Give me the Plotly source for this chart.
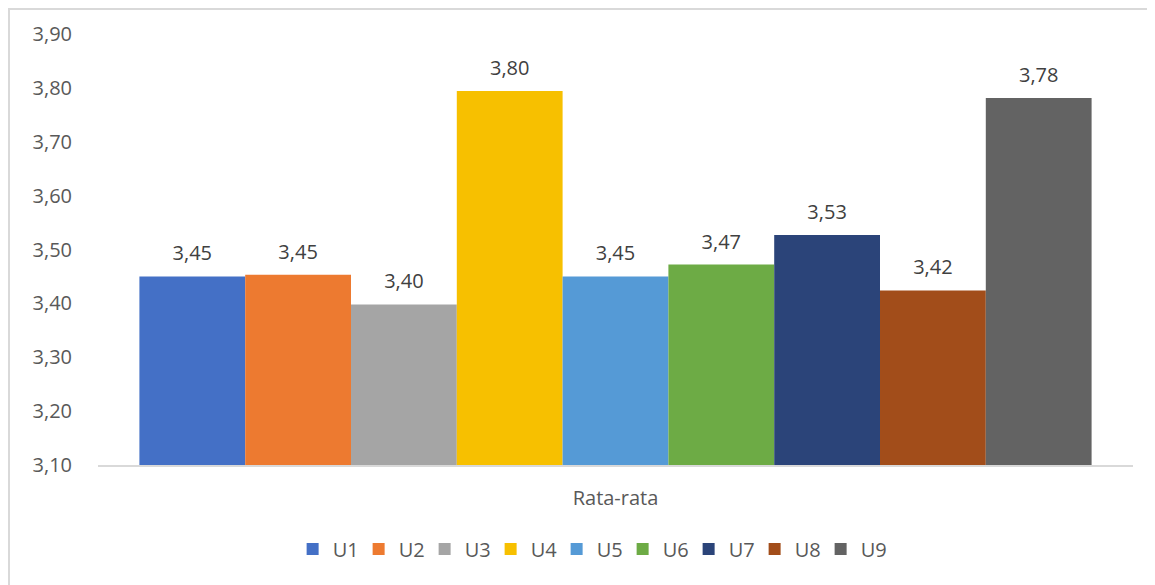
import plotly.graph_objects as go

category = ["Rata-rata"]
series_names = ["U1", "U2", "U3", "U4", "U5", "U6", "U7", "U8", "U9"]
series_values = [3.450, 3.453, 3.398, 3.794, 3.450, 3.472, 3.527, 3.424, 3.781]
series_colors = ["#4470c6", "#ed7a30", "#a5a5a5", "#f7c000", "#559ad6",
                 "#6dab45", "#2b4479", "#a24d1a", "#636363"]
y_ticks = [3.10, 3.20, 3.30, 3.40, 3.50, 3.60, 3.70, 3.80, 3.90]
label_texts = ["3,45", "3,45", "3,40", "3,80", "3,45", "3,47", "3,53", "3,42", "3,78"]

FONT = "Open Sans"

fig = go.Figure()
for name, val, col in zip(series_names, series_values, series_colors):
    fig.add_trace(go.Bar(
        x=category, y=[val], name=name, offsetgroup=name, alignmentgroup="a",
        marker=dict(color=col, line=dict(width=0)),
        hoverinfo="y+name",
    ))
for name, val, lab in zip(series_names, series_values, label_texts):
    fig.add_trace(go.Scatter(
        x=category, y=[val], offsetgroup=name, alignmentgroup="a",
        mode="markers+text",
        marker=dict(size=16, opacity=0), text=[lab],
        textposition="top center",
        textfont=dict(family=FONT, size=20, color="#404040"),
        showlegend=False, hoverinfo="skip", cliponaxis=False,
    ))

fig.add_shape(type="rect", xref="paper", yref="paper",
              x0=-0.086, x1=1.05, y0=-0.35, y1=1.058,
              line=dict(color="#d9d9d9", width=2), fillcolor="rgba(0,0,0,0)",
              layer="below")

fig.update_layout(
    width=1155, height=585,
    margin=dict(l=90, r=30, t=26, b=128),
    paper_bgcolor="white", plot_bgcolor="white",
    barmode="group", bargap=0.08, bargroupgap=0,
    scattermode="group", scattergap=0.08,
    separators=",.",
    font=dict(family=FONT, size=20, color="#595959"),
    showlegend=True,
    legend=dict(orientation="h", x=0.475, xanchor="center", y=-0.195, yanchor="middle",
                font=dict(family=FONT, size=20, color="#595959"),
                itemwidth=30, traceorder="normal",
                entrywidth=21, entrywidthmode="pixels"),
    xaxis=dict(showline=True, linecolor="#d9d9d9", linewidth=1.5,
               showgrid=False, ticks="", ticklabelstandoff=14,
               tickfont=dict(family=FONT, size=20, color="#595959")),
    yaxis=dict(range=[3.1, 3.9], tickvals=y_ticks, tickformat=".2f",
               showgrid=False, zeroline=False, showline=False, ticks="",
               ticklabelstandoff=25,
               tickfont=dict(family=FONT, size=20, color="#595959")),
)

fig.write_html("out.html")
